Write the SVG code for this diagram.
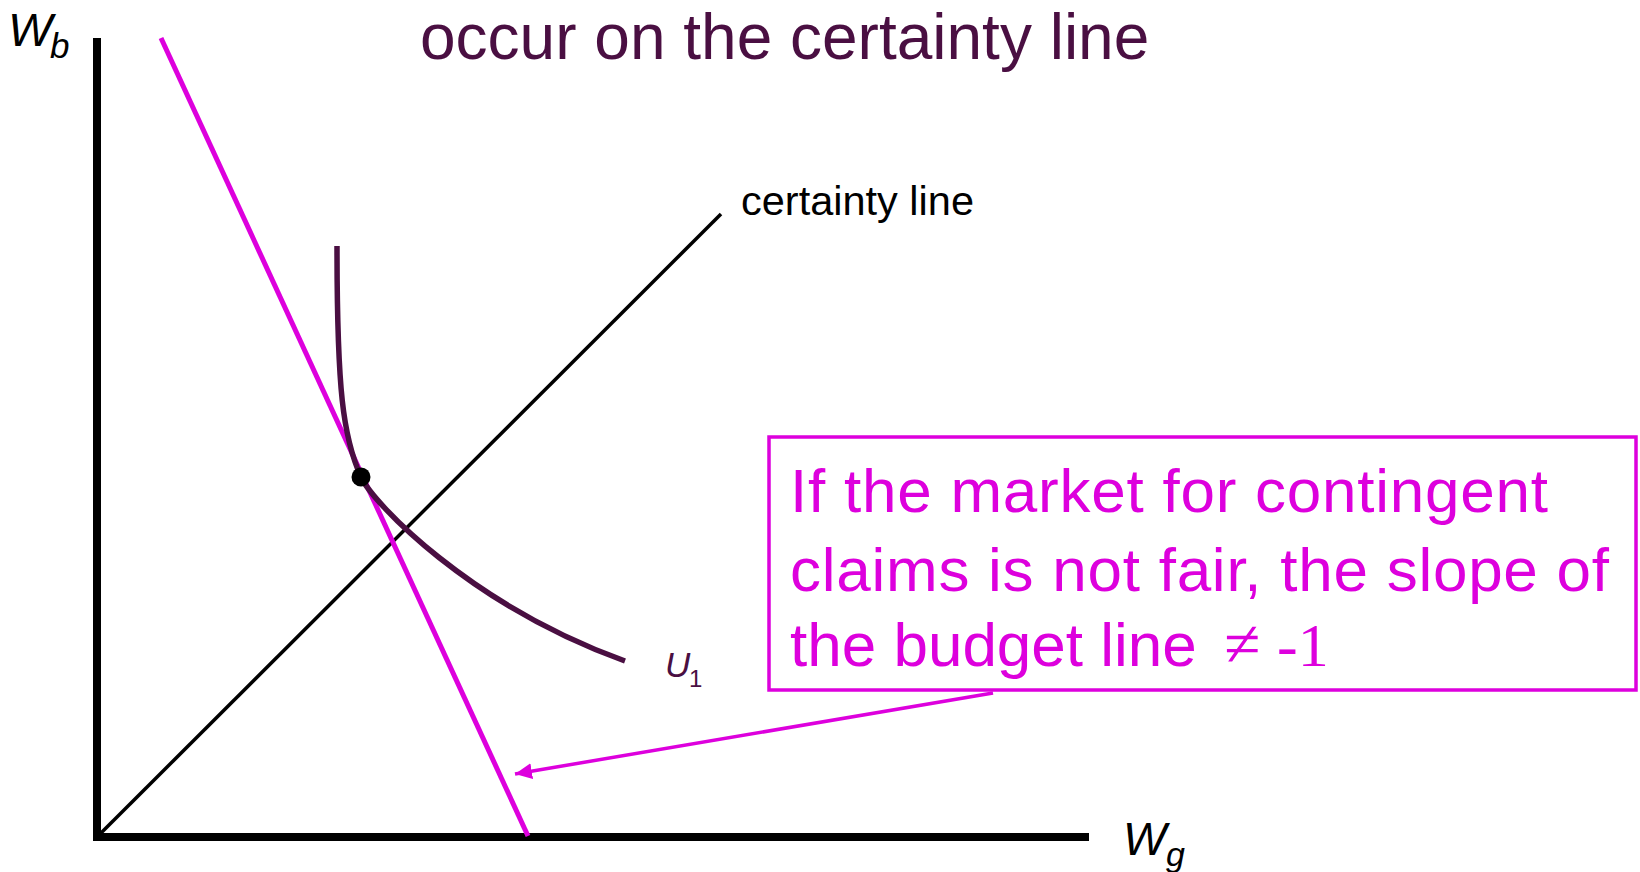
<svg xmlns="http://www.w3.org/2000/svg" width="1640" height="872" viewBox="0 0 1640 872">
<style>
.sans{font-family:"Liberation Sans",Arial,sans-serif}
.serif{font-family:"Liberation Serif","Times New Roman",serif}
.purple{fill:#4a0f42}
.mag{fill:#dd00dd}
.axis{stroke:#000;stroke-width:8;fill:none}
</style>
<defs>
<marker id="ah" markerUnits="userSpaceOnUse" markerWidth="20" markerHeight="18" refX="17" refY="8" orient="auto">
<path d="M0,0 L17,8 L0,16 Z" fill="#dd00dd"/>
</marker>
</defs>
<rect width="1640" height="872" fill="#fff"/>
<g id="title"><text class="sans purple" x="420" y="59" font-size="64">occur on the certainty line</text></g>
<g id="axes">
<line class="axis" x1="97" y1="38" x2="97" y2="841"/>
<line class="axis" x1="93" y1="837" x2="1089" y2="837"/>
<text class="sans" x="8" y="46" font-size="47" font-style="italic">W</text>
<text class="sans" x="50" y="58" font-size="35" font-style="italic">b</text>
<text class="sans" x="1123" y="855" font-size="46" font-style="italic">W</text>
<text class="sans" x="1166" y="866" font-size="34" font-style="italic">g</text>
</g>
<g id="certainty-line">
<line x1="97" y1="837" x2="721" y2="214" stroke="#000" stroke-width="3.5"/>
<text class="sans" x="741" y="215" font-size="41.5" fill="#000">certainty line</text>
</g>
<g id="budget-line">
<line x1="161" y1="38" x2="528" y2="836" stroke="#dd00dd" stroke-width="5"/>
</g>
<g id="indifference-curve">
<path d="M337,246 C337,390 343,437 361,477 C373,503 470,605 625,661" fill="none" stroke="#4a0f42" stroke-width="5.5"/>
<text class="sans purple" x="665" y="677" font-size="35" font-style="italic">U</text>
<text class="sans purple" x="689" y="687" font-size="24">1</text>
</g>
<g id="optimum"><circle cx="361" cy="477" r="9.5" fill="#000"/></g>
<g id="callout">
<rect x="769" y="437" width="867" height="253" fill="none" stroke="#dd00dd" stroke-width="3.5"/>
<text class="sans mag" x="790" y="512" font-size="62" textLength="758" lengthAdjust="spacing">If the market for contingent</text>
<text class="sans mag" x="790" y="591" font-size="62" textLength="819" lengthAdjust="spacing">claims is not fair, the slope of</text>
<text class="sans mag" x="790" y="666" font-size="62">the budget line <tspan class="serif" x="1224" font-size="66">≠</tspan><tspan class="serif" x="1277">-1</tspan></text>
</g>
<g id="connectors">
<line x1="993" y1="693" x2="515" y2="774" stroke="#dd00dd" stroke-width="3.5" marker-end="url(#ah)"/>
</g>
</svg>
